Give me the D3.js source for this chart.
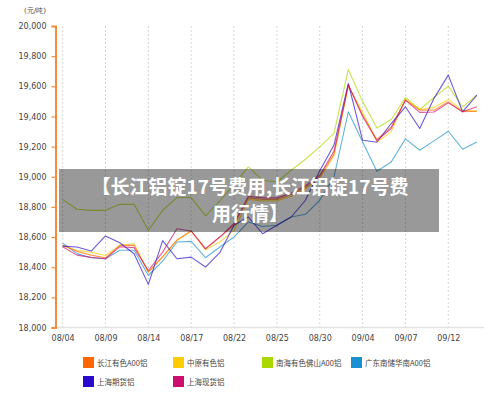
<!DOCTYPE html>
<html>
<head>
<meta charset="utf-8">
<script src="https://cdn.jsdelivr.net/npm/d3@7"></script>
<style>
  body { margin: 0; background: #fff; }
  svg { display: block; font-family: "DejaVu Sans", Verdana, sans-serif; }
</style>
</head>
<body>
<svg id="chart" width="500" height="402"></svg>
<script>
// dates (trading days) and the tick labels shown on the x axis
const dates = ["08/04", "08/07", "08/08", "08/09", "08/10", "08/11", "08/14", "08/15", "08/16", "08/17",
    "08/18", "08/21", "08/22", "08/23", "08/24", "08/25", "08/28", "08/29", "08/30", "08/31",
    "09/01", "09/04", "09/05", "09/06", "09/07", "09/08", "09/11", "09/12", "09/13", "09/14"];
const xTicks = ["08/04", "08/09", "08/14", "08/17", "08/22", "08/25", "08/30", "09/04", "09/07", "09/12"];
const yTicks = [18000, 18200, 18400, 18600, 18800, 19000, 19200, 19400, 19600, 19800, 20000];

// series values (元/吨)
const changjiang = [18545, 18505, 18480, 18462, 18545, 18545, 18367, 18470, 18580, 18640,
    18520, 18600, 18680, 18860, 18850, 18850, 18880, 18930, 19000, 19150,
    19608, 19410, 19247, 19331, 19508, 19442, 19442, 19497, 19431, 19435];
const zhongyuan = [18545, 18511, 18500, 18478, 18545, 18556, 18367, 18467, 18578, 18640,
    18516, 18567, 18644, 18850, 18840, 18840, 18870, 18920, 18990, 19140,
    19600, 19430, 19231, 19298, 19520, 19446, 19460, 19513, 19440, 19435];
const nanhai = [18848, 18784, 18777, 18777, 18817, 18817, 18645, 18777, 18862, 18862,
    18740, 18840, 18950, 19065, 18977, 18965, 19043, 19116, 19198, 19290,
    19712, 19500, 19324, 19380, 19524, 19446, 19526, 19601, 19464, 19541];
const guangdong = [18560, 18490, 18463, 18456, 18512, 18512, 18345, 18440, 18567, 18571,
    18463, 18534, 18600, 18700, 18670, 18678, 18733, 18751, 18844, 19000,
    19431, 19231, 19036, 19098, 19251, 19176, 19238, 19302, 19183, 19231];
const shfe = [18540, 18534, 18507, 18607, 18562, 18489, 18286, 18576, 18456, 18467,
    18401, 18496, 18678, 18733, 18622, 18678, 18733, 18844, 19040, 19210,
    19619, 19242, 19229, 19353, 19464, 19320, 19520, 19674, 19431, 19541];
const shSpot = [18536, 18480, 18465, 18456, 18536, 18530, 18378, 18500, 18655, 18640,
    18523, 18600, 18690, 18870, 18860, 18860, 18890, 18940, 19010, 19170,
    19610, 19400, 19240, 19320, 19508, 19427, 19430, 19490, 19431, 19464];

const seriesNames = ["长江有色A00铝", "中原有色铝", "南海有色佛山A00铝", "广东南储华南A00铝", "上海期货铝", "上海现货铝"];
const seriesColors = ["#ff6600", "#ffcc00", "#aad800", "#1a8fd2", "#2a0acc", "#cc0f6e"];
const seriesValues = [changjiang, zhongyuan, nanhai, guangdong, shfe, shSpot];
const drawOrder = [2, 3, 1, 0, 4, 5];

const svg = d3.select("#chart");
const margin = { top: 26, right: 16, bottom: 75, left: 55.5 };
const width = 500, height = 402;

const x = d3.scalePoint()
    .domain(dates)
    .range([margin.left, width - margin.right])
    .padding(0.5);

const y = d3.scaleLinear()
    .domain([18000, 20000])
    .range([height - margin.bottom + 0.5, margin.top]);

// vertical dotted grid at tick dates
svg.append("g")
    .selectAll("line")
    .data(xTicks)
    .join("line")
    .attr("x1", d => x(d)).attr("x2", d => x(d))
    .attr("y1", margin.top).attr("y2", y(18000))
    .attr("stroke", "#d8d8d8")
    .attr("stroke-dasharray", "2,2");

// bottom axis
const xAxis = svg.append("g")
    .attr("transform", `translate(0,${y(18000)})`)
    .call(d3.axisBottom(x).tickValues(xTicks).tickSize(0).tickPadding(8));
xAxis.select(".domain").attr("stroke", "#e3e3e3").attr("stroke-width", 1.5)
    .attr("d", `M${margin.left},0H${width - margin.right}`);
xAxis.selectAll("text").attr("font-size", 8).attr("fill", "#444")
    .attr("font-family", "DejaVu Sans, sans-serif");

// left axis (orange)
const yAxis = svg.append("g")
    .attr("transform", `translate(${margin.left},0)`)
    .call(d3.axisLeft(y).tickValues(yTicks).tickSize(4).tickPadding(5).tickFormat(d3.format(",")));
yAxis.select(".domain").attr("stroke", "#f68b3a").attr("stroke-width", 2);
yAxis.selectAll(".tick line").attr("stroke", "#f68b3a").attr("stroke-width", 1.2);
yAxis.selectAll("text").attr("font-size", 8).attr("fill", "#444")
    .attr("font-family", "DejaVu Sans, sans-serif");

svg.append("text")
    .attr("x", 35).attr("y", 13)
    .attr("text-anchor", "middle")
    .attr("font-size", 7)
    .attr("fill", "#444")
    .text("(元/吨)");

// lines
const line = d3.line()
    .x((d, i) => x(dates[i]))
    .y(d => y(d));

svg.append("g")
    .selectAll("path")
    .data(drawOrder)
    .join("path")
    .attr("d", k => line(seriesValues[k]))
    .attr("fill", "none")
    .attr("stroke", k => seriesColors[k])
    .attr("stroke-opacity", 0.68)
    .attr("stroke-width", 1.1)
    .attr("stroke-linejoin", "round");

// title overlay
svg.append("rect")
    .attr("x", 59).attr("y", 169)
    .attr("width", 380).attr("height", 63)
    .attr("fill", "rgba(0,0,0,0.4)");

const title = svg.append("text")
    .attr("text-anchor", "middle")
    .attr("fill", "#fff")
    .attr("font-weight", "bold")
    .attr("font-size", 19)
    .attr("font-family", "Noto Sans CJK SC, sans-serif");
title.append("tspan").attr("x", 250).attr("y", 194).text("【长江铝锭17号费用,长江铝锭17号费");
title.append("tspan").attr("x", 250).attr("y", 221).text("用行情】");

// legend
const legendPos = [[83, 357], [173, 357], [262, 357], [351, 357], [83, 376], [173, 376]];
const legend = svg.append("g")
    .selectAll("g")
    .data(seriesNames)
    .join("g")
    .attr("transform", (d, i) => `translate(${legendPos[i][0]},${legendPos[i][1]})`);

legend.append("rect")
    .attr("width", 11).attr("height", 11)
    .attr("fill", (d, i) => seriesColors[i]);

legend.append("text")
    .attr("x", 14).attr("y", 8.5)
    .attr("font-size", 7.5)
    .attr("fill", "#444")
    .attr("font-family", "Noto Sans CJK SC, sans-serif")
    .text(d => d);
</script>
</body>
</html>
